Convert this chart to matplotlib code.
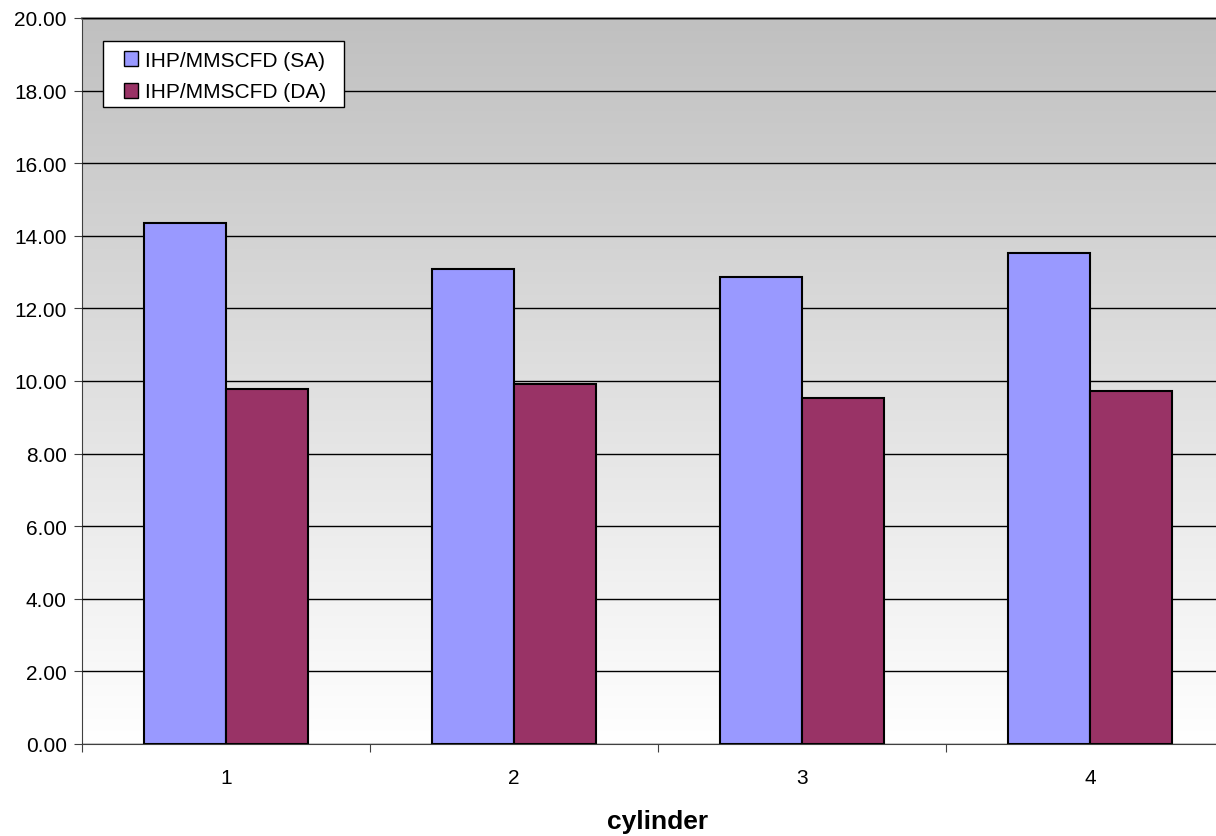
import matplotlib
matplotlib.use("Agg")
import matplotlib.pyplot as plt
from matplotlib.patches import Rectangle
import numpy as np

# valorile pe cilindru
cilindri = ["1", "2", "3", "4"]
ihp_sa = [14.35, 13.09, 12.86, 13.52]
ihp_da = [9.78, 9.92, 9.53, 9.73]
etichete = ["IHP/MMSCFD (SA)", "IHP/MMSCFD (DA)"]

plt.rcParams['font.family'] = ['Liberation Sans', 'DejaVu Sans']

fig = plt.figure(figsize=(12.16, 8.37), dpi=100)
# axa iese putin in dreapta figurii, ca in graficul original
ax = fig.add_axes([82 / 1216, 92 / 837, 1152 / 1216, 726 / 837])

x = np.arange(1, len(cilindri) + 1)
w = 0.285

# fundal in degrade: gri sus, alb jos
grad = np.linspace(0, 1, 256).reshape(-1, 1)
cmap = matplotlib.colors.LinearSegmentedColormap.from_list("fundal", ["#c0c0c0", "#ffffff"])
ax.imshow(grad, cmap=cmap, aspect="auto", extent=[0, 1, 0, 1],
          transform=ax.transAxes, zorder=0)

ax.bar(x - w / 2, ihp_sa, w, color="#9999ff", edgecolor="black", linewidth=1.5,
       label=etichete[0], zorder=3)
ax.bar(x + w / 2, ihp_da, w, color="#993366", edgecolor="black", linewidth=1.5,
       label=etichete[1], zorder=3)

ax.set_xlim(0.5, 4.5)
ax.set_ylim(0, 20)
ax.set_yticks(np.arange(0, 20.1, 2))
ax.set_yticklabels([f"{v:.2f}" for v in np.arange(0, 20.1, 2)], fontsize=15)
ax.yaxis.grid(True, color="black", linewidth=1)
ax.set_axisbelow(False)
for linie in ax.get_ygridlines():
    linie.set_zorder(1)

# tick-uri intre categorii, etichete in centru
ax.set_xticks([0.5, 1.5, 2.5, 3.5])
ax.set_xticklabels([])
ax.set_xticks(x, minor=True)
ax.set_xticklabels(cilindri, minor=True, fontsize=15)
ax.tick_params(axis="x", which="major", length=6, color="#404040")
ax.tick_params(axis="x", which="minor", length=0, pad=17)
ax.tick_params(axis="y", length=6, pad=5, color="#404040")

ax.spines["right"].set_visible(False)
ax.spines["top"].set_color("#808080")
ax.spines["top"].set_linewidth(2)
ax.spines["left"].set_color("#404040")
ax.spines["bottom"].set_color("#404040")

ax.set_xlabel("cylinder", fontsize=19, fontweight="bold", labelpad=16)

# legenda fara cadru, cadrul desenat separat
leg = ax.legend(loc="upper left", bbox_to_anchor=(124 / 1216, 1 - 52 / 837),
                bbox_transform=fig.transFigure, borderaxespad=0, borderpad=0,
                frameon=False, fontsize=15, handlelength=0.65, handleheight=0.7,
                handletextpad=0.35, labelspacing=0.6)
for h in leg.legend_handles:
    h.set_linewidth(1)
cadru = Rectangle((103 / 1216, 1 - 108 / 837), 241 / 1216, 66 / 837,
                  transform=fig.transFigure, facecolor="white", edgecolor="black",
                  linewidth=1, zorder=4)
ax.add_artist(cadru)
cadru.set_clip_on(False)
leg.set_zorder(5)

fig.savefig("out.png", dpi=100)
